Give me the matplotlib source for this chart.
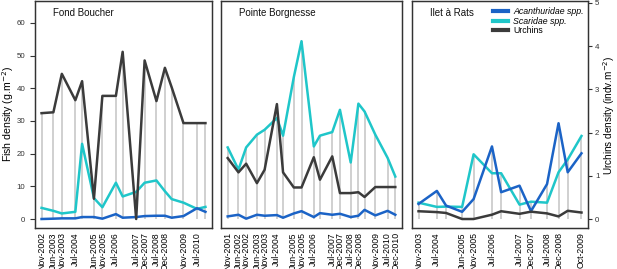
import matplotlib
matplotlib.use("Agg")
import matplotlib.pyplot as plt
from matplotlib.lines import Line2D
from datetime import datetime

plt.rcParams['font.family'] = ['Liberation Sans', 'DejaVu Sans']

# --- data ---
sites = ["Fond Boucher", "Pointe Borgnesse", "Ilet à Rats"]

fb_dates = ["Nov-2002", "Jun-2003", "Nov-2003", "Jul-2004", "Nov-2004", "Jun-2005", "Nov-2005",
            "Jul-2006", "Nov-2006", "Jul-2007", "Dec-2007", "Jul-2008", "Dec-2008", "Apr-2009",
            "Nov-2009", "Jul-2010", "Dec-2010"]
fb_acanth = [0.0, 0.1, 0.2, 0.2, 0.6, 0.6, 0.1, 1.5, 0.4, 0.6, 0.9, 1.0, 1.0, 0.4, 0.9, 3.3, 2.2]
fb_scarid = [3.4, 2.5, 1.7, 2.2, 23.0, 6.4, 3.6, 11.1, 6.9, 8.3, 11.1, 11.8, 8.5, 6.1, 5.0, 3.1, 3.7]
fb_urchin = [2.45, 2.47, 3.36, 2.75, 3.19, 0.47, 2.85, 2.85, 3.87, 0.0, 3.67, 2.73, 3.50, 3.05,
             2.22, 2.22, 2.22]
fb_shown = ["Nov-2002", "Jun-2003", "Nov-2003", "Jul-2004", "Jun-2005", "Nov-2005", "Jul-2006",
            "Jul-2007", "Dec-2007", "Jul-2008", "Dec-2008", "Nov-2009", "Jul-2010"]

pb_dates = ["Nov-2001", "Jun-2002", "Nov-2002", "Jun-2003", "Nov-2003", "Jul-2004", "Nov-2004",
            "Jun-2005", "Nov-2005", "Jul-2006", "Nov-2006", "Jul-2007", "Dec-2007", "Jul-2008",
            "Dec-2008", "Apr-2009", "Nov-2009", "Jul-2010", "Dec-2010"]
pb_acanth = [0.8, 1.3, 0.1, 1.3, 1.0, 1.2, 0.4, 1.7, 2.4, 0.6, 1.8, 1.3, 1.6, 0.6, 1.0, 2.8,
             1.1, 2.5, 1.3]
pb_scarid = [21.9, 15.1, 21.9, 25.8, 27.3, 30.9, 25.5, 43.4, 54.4, 22.2, 25.5, 26.6, 33.4, 17.3,
             35.3, 32.9, 25.8, 18.7, 13.0]
pb_urchin = [1.41, 1.08, 1.28, 0.83, 1.14, 2.66, 1.08, 0.73, 0.73, 1.43, 0.91, 1.45, 0.60, 0.60,
             0.62, 0.51, 0.74, 0.74, 0.74]
pb_shown = ["Nov-2001", "Jun-2002", "Nov-2002", "Jun-2003", "Nov-2003", "Jul-2004", "Jun-2005",
            "Nov-2005", "Jul-2006", "Jul-2007", "Dec-2007", "Jul-2008", "Dec-2008", "Nov-2009",
            "Jul-2010", "Dec-2010"]

ir_dates = ["Nov-2003", "Jul-2004", "Nov-2004", "Jun-2005", "Nov-2005", "Jul-2006", "Nov-2006",
            "Jul-2007", "Dec-2007", "Jul-2008", "Dec-2008", "Apr-2009", "Oct-2009"]
ir_acanth = [4.6, 8.6, 4.1, 2.2, 6.1, 22.2, 8.2, 10.2, 2.4, 10.7, 29.3, 14.3, 20.1]
ir_scarid = [5.0, 3.7, 3.8, 3.7, 19.8, 14.0, 14.0, 4.4, 5.3, 5.0, 14.3, 18.2, 25.4]
ir_urchin = [0.18, 0.16, 0.14, 0.0, 0.0, 0.10, 0.18, 0.12, 0.17, 0.13, 0.06, 0.19, 0.15]
ir_shown = ["Nov-2003", "Jul-2004", "Jun-2005", "Nov-2005", "Jul-2006", "Jul-2007", "Dec-2007",
            "Jul-2008", "Dec-2008", "Oct-2009"]

panels = [
    (fb_dates, fb_acanth, fb_scarid, fb_urchin, fb_shown),
    (pb_dates, pb_acanth, pb_scarid, pb_urchin, pb_shown),
    (ir_dates, ir_acanth, ir_scarid, ir_urchin, ir_shown),
]

c_acanth = "#1b63c6"
c_scarid = "#1fc6c9"
c_urchin = "#3b3b3b"
c_drop = "#c4c4c4"

fish_lim = (-2.75, 66.7)
urch_lim = (-0.208, 5.046)


def month_num(s):
    d = datetime.strptime(s, "%b-%Y")
    return d.year * 12 + d.month - 1


def to_fish(u):
    # urchin value -> left-axis units (same pixel height)
    f = (u - urch_lim[0]) / (urch_lim[1] - urch_lim[0])
    return fish_lim[0] + f * (fish_lim[1] - fish_lim[0])


W, H = 617, 269
fig = plt.figure(figsize=(W / 100, H / 100), dpi=100)
boxes = [(35, 177), (221, 181), (412, 176)]
bottom = (H - 228) / H
height = 227 / H

for i, (dates, acanth, scarid, urchin, shown) in enumerate(panels):
    x = [month_num(d) for d in dates]
    left, w = boxes[i]
    ax = fig.add_axes([left / W, bottom, w / W, height])
    ax2 = ax.twinx()

    tops = [max(a, s, to_fish(u)) for a, s, u in zip(acanth, scarid, urchin)]
    ax.vlines(x, 0, tops, color=c_drop, lw=1.1, zorder=1)
    ax.plot(x, acanth, color=c_acanth, lw=1.8, zorder=3)
    ax.plot(x, scarid, color=c_scarid, lw=1.8, zorder=2)
    ax2.plot(x, urchin, color=c_urchin, lw=1.8, zorder=3)

    span = x[-1] - x[0]
    ax.set_xlim(x[0] - 0.04 * span, x[-1] + 0.04 * span)
    ax.set_ylim(*fish_lim)
    ax2.set_ylim(*urch_lim)

    ax.set_xticks([month_num(d) for d in shown])
    ax.set_xticklabels(shown, rotation=90, fontsize=6.3)
    ax.tick_params(axis='x', length=0, pad=3)

    for sp in list(ax.spines.values()) + list(ax2.spines.values()):
        sp.set_linewidth(0.9)
        sp.set_color("#333333")

    if i == 0:
        ax.set_yticks([0, 10, 20, 30, 40, 50, 60])
        ax.tick_params(axis='y', labelsize=5.7, length=3.5, width=0.8, pad=3.5, colors="#333333")
    else:
        ax.set_yticks([])
    if i == 2:
        ax2.set_yticks([0, 1, 2, 3, 4, 5])
        ax2.tick_params(axis='y', labelsize=5.7, length=3, width=0.8, pad=2, colors="#333333")
    else:
        ax2.set_yticks([])

    ax.text(18 / w, 0.947, sites[i], transform=ax.transAxes, fontsize=7,
            ha='left', va='center', color="#111111")

    if i == 2:
        handles = [Line2D([], [], color=c_acanth, lw=3),
                   Line2D([], [], color=c_scarid, lw=3),
                   Line2D([], [], color=c_urchin, lw=3)]
        leg = ax.legend(handles, ["Acanthuridae spp.", "Scaridae spp.", "Urchins"],
                        loc='upper right', frameon=False, fontsize=6.3,
                        handlelength=1.7, handletextpad=0.6, labelspacing=0.05,
                        borderaxespad=0.3, bbox_to_anchor=(1.01, 1.0))
        for t in leg.get_texts()[:2]:
            t.set_fontstyle('italic')

fig.text(8 / W, 1 - 114 / H, "Fish density (g.m$^{-2}$)", rotation=90,
         ha='center', va='center', fontsize=7.6)
fig.text(609 / W, 1 - 115 / H, "Urchins density (indv.m$^{-2}$)", rotation=90,
         ha='center', va='center', fontsize=7.2)

fig.savefig("out.png", dpi=100)
